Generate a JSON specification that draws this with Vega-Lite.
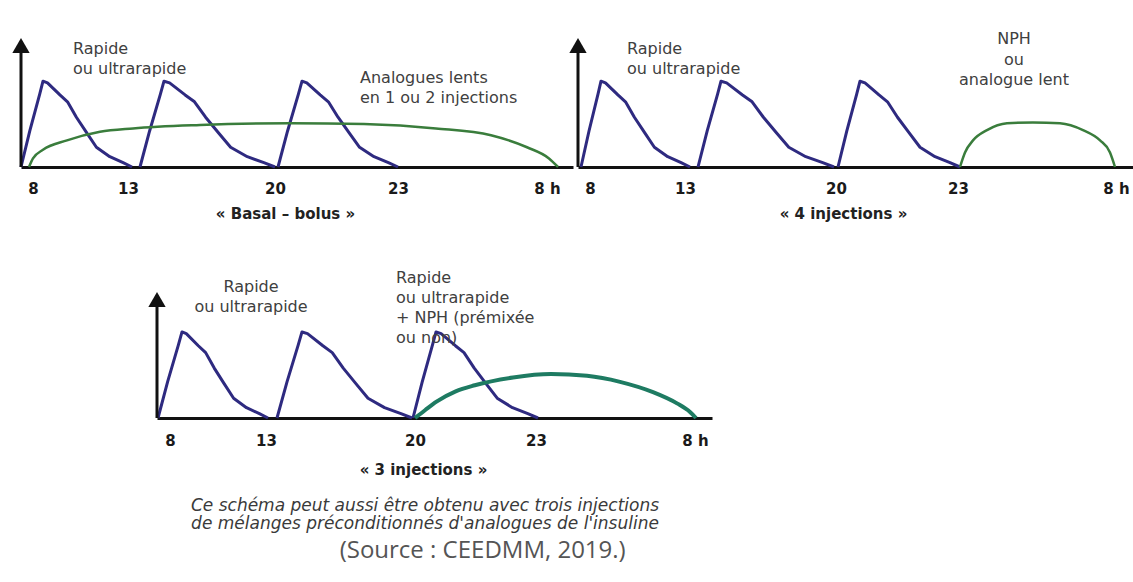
{
  "$schema": "https://vega.github.io/schema/vega-lite/v6.json",
  "background": "white",
  "autosize": {"type": "pad"},
  "padding": {"left": 12, "top": 4, "right": 0, "bottom": 12},
  "bounds": "flush",
  "spacing": 229,
  "config": {"view": {"stroke": null}, "font": "DejaVu Sans"},
  "title": {"text": "(Source : CEEDMM, 2019.)", "orient": "bottom", "anchor": "middle", "dx": -90, "offset": 7, "font": "Open Sans", "fontSize": 24, "fontWeight": "normal", "color": "#555555"},
  "datasets": {
    "axes": [
      {"p":"p1","t":7,"v":0,"top":1.417},
      {"p":"p2","t":7,"v":0,"top":1.417},
      {"p":"p3","t":7,"v":0,"top":1.378}
    ],
    "curves": [
      {"p":"p1","s":"rapide","id":"b1","t":7.0,"v":0},{"p":"p1","s":"rapide","id":"b1","t":7.733,"v":0.42},{"p":"p1","s":"rapide","id":"b1","t":8.353,"v":0.85},{"p":"p1","s":"rapide","id":"b1","t":8.526,"v":1},{"p":"p1","s":"rapide","id":"b1","t":8.763,"v":0.98},{"p":"p1","s":"rapide","id":"b1","t":9.416,"v":0.84},{"p":"p1","s":"rapide","id":"b1","t":9.816,"v":0.76},{"p":"p1","s":"rapide","id":"b1","t":10.284,"v":0.58},{"p":"p1","s":"rapide","id":"b1","t":10.821,"v":0.40},{"p":"p1","s":"rapide","id":"b1","t":11.337,"v":0.23},{"p":"p1","s":"rapide","id":"b1","t":12.042,"v":0.12},{"p":"p1","s":"rapide","id":"b1","t":12.742,"v":0.05},{"p":"p1","s":"rapide","id":"b1","t":13.19,"v":0},
      {"p":"p1","s":"rapide","id":"b2","t":13.571,"v":0},{"p":"p1","s":"rapide","id":"b2","t":14.029,"v":0.42},{"p":"p1","s":"rapide","id":"b2","t":14.543,"v":0.85},{"p":"p1","s":"rapide","id":"b2","t":14.714,"v":1},{"p":"p1","s":"rapide","id":"b2","t":14.981,"v":0.98},{"p":"p1","s":"rapide","id":"b2","t":15.719,"v":0.84},{"p":"p1","s":"rapide","id":"b2","t":16.167,"v":0.76},{"p":"p1","s":"rapide","id":"b2","t":16.695,"v":0.58},{"p":"p1","s":"rapide","id":"b2","t":17.305,"v":0.40},{"p":"p1","s":"rapide","id":"b2","t":17.886,"v":0.23},{"p":"p1","s":"rapide","id":"b2","t":18.681,"v":0.12},{"p":"p1","s":"rapide","id":"b2","t":19.471,"v":0.05},{"p":"p1","s":"rapide","id":"b2","t":20.0,"v":0},
      {"p":"p1","s":"rapide","id":"b3","t":20.073,"v":0},{"p":"p1","s":"rapide","id":"b3","t":20.307,"v":0.42},{"p":"p1","s":"rapide","id":"b3","t":20.571,"v":0.85},{"p":"p1","s":"rapide","id":"b3","t":20.659,"v":1},{"p":"p1","s":"rapide","id":"b3","t":20.776,"v":0.98},{"p":"p1","s":"rapide","id":"b3","t":21.102,"v":0.84},{"p":"p1","s":"rapide","id":"b3","t":21.302,"v":0.76},{"p":"p1","s":"rapide","id":"b3","t":21.537,"v":0.58},{"p":"p1","s":"rapide","id":"b3","t":21.805,"v":0.40},{"p":"p1","s":"rapide","id":"b3","t":22.063,"v":0.23},{"p":"p1","s":"rapide","id":"b3","t":22.415,"v":0.12},{"p":"p1","s":"rapide","id":"b3","t":22.766,"v":0.05},{"p":"p1","s":"rapide","id":"b3","t":23.0,"v":0},
      {"p":"p1","s":"lent","id":"g1","t":7.667,"v":0},{"p":"p1","s":"lent","id":"g1","t":8.0,"v":0.10},{"p":"p1","s":"lent","id":"g1","t":8.526,"v":0.20},{"p":"p1","s":"lent","id":"g1","t":9.789,"v":0.31},{"p":"p1","s":"lent","id":"g1","t":11.526,"v":0.41},{"p":"p1","s":"lent","id":"g1","t":13.238,"v":0.45},{"p":"p1","s":"lent","id":"g1","t":16.429,"v":0.49},{"p":"p1","s":"lent","id":"g1","t":20.39,"v":0.51},{"p":"p1","s":"lent","id":"g1","t":22.171,"v":0.50},{"p":"p1","s":"lent","id":"g1","t":25.295,"v":0.45},{"p":"p1","s":"lent","id":"g1","t":28.617,"v":0.37},{"p":"p1","s":"lent","id":"g1","t":30.792,"v":0.23},{"p":"p1","s":"lent","id":"g1","t":32.077,"v":0.10},{"p":"p1","s":"lent","id":"g1","t":32.423,"v":0},
      {"p":"p2","s":"rapide","id":"b1","t":7.25,"v":0},{"p":"p2","s":"rapide","id":"b1","t":7.917,"v":0.42},{"p":"p2","s":"rapide","id":"b1","t":8.421,"v":0.85},{"p":"p2","s":"rapide","id":"b1","t":8.579,"v":1},{"p":"p2","s":"rapide","id":"b1","t":8.813,"v":0.98},{"p":"p2","s":"rapide","id":"b1","t":9.468,"v":0.84},{"p":"p2","s":"rapide","id":"b1","t":9.868,"v":0.76},{"p":"p2","s":"rapide","id":"b1","t":10.337,"v":0.58},{"p":"p2","s":"rapide","id":"b1","t":10.874,"v":0.40},{"p":"p2","s":"rapide","id":"b1","t":11.389,"v":0.23},{"p":"p2","s":"rapide","id":"b1","t":12.092,"v":0.12},{"p":"p2","s":"rapide","id":"b1","t":12.795,"v":0.05},{"p":"p2","s":"rapide","id":"b1","t":13.232,"v":0},
      {"p":"p2","s":"rapide","id":"b2","t":13.603,"v":0},{"p":"p2","s":"rapide","id":"b2","t":14.029,"v":0.42},{"p":"p2","s":"rapide","id":"b2","t":14.511,"v":0.85},{"p":"p2","s":"rapide","id":"b2","t":14.669,"v":1},{"p":"p2","s":"rapide","id":"b2","t":14.931,"v":0.98},{"p":"p2","s":"rapide","id":"b2","t":15.666,"v":0.84},{"p":"p2","s":"rapide","id":"b2","t":16.111,"v":0.76},{"p":"p2","s":"rapide","id":"b2","t":16.635,"v":0.58},{"p":"p2","s":"rapide","id":"b2","t":17.237,"v":0.40},{"p":"p2","s":"rapide","id":"b2","t":17.812,"v":0.23},{"p":"p2","s":"rapide","id":"b2","t":18.598,"v":0.12},{"p":"p2","s":"rapide","id":"b2","t":19.384,"v":0.05},{"p":"p2","s":"rapide","id":"b2","t":19.907,"v":0},
      {"p":"p2","s":"rapide","id":"b3","t":20.049,"v":0},{"p":"p2","s":"rapide","id":"b3","t":20.266,"v":0.42},{"p":"p2","s":"rapide","id":"b3","t":20.509,"v":0.85},{"p":"p2","s":"rapide","id":"b3","t":20.59,"v":1},{"p":"p2","s":"rapide","id":"b3","t":20.713,"v":0.98},{"p":"p2","s":"rapide","id":"b3","t":21.057,"v":0.84},{"p":"p2","s":"rapide","id":"b3","t":21.266,"v":0.76},{"p":"p2","s":"rapide","id":"b3","t":21.512,"v":0.58},{"p":"p2","s":"rapide","id":"b3","t":21.795,"v":0.40},{"p":"p2","s":"rapide","id":"b3","t":22.066,"v":0.23},{"p":"p2","s":"rapide","id":"b3","t":22.435,"v":0.12},{"p":"p2","s":"rapide","id":"b3","t":22.803,"v":0.05},{"p":"p2","s":"rapide","id":"b3","t":23.114,"v":0},
      {"p":"p2","s":"lent","id":"g1","t":23.114,"v":0},{"p":"p2","s":"lent","id":"g1","t":23.399,"v":0.17},{"p":"p2","s":"lent","id":"g1","t":23.854,"v":0.31},{"p":"p2","s":"lent","id":"g1","t":24.652,"v":0.43},{"p":"p2","s":"lent","id":"g1","t":25.791,"v":0.51},{"p":"p2","s":"lent","id":"g1","t":27.272,"v":0.52},{"p":"p2","s":"lent","id":"g1","t":28.81,"v":0.51},{"p":"p2","s":"lent","id":"g1","t":30.12,"v":0.43},{"p":"p2","s":"lent","id":"g1","t":31.092,"v":0.31},{"p":"p2","s":"lent","id":"g1","t":31.658,"v":0.17},{"p":"p2","s":"lent","id":"g1","t":31.943,"v":0},
      {"p":"p3","s":"rapide","id":"b1","t":7.077,"v":0},{"p":"p3","s":"rapide","id":"b1","t":7.815,"v":0.42},{"p":"p3","s":"rapide","id":"b1","t":8.438,"v":0.85},{"p":"p3","s":"rapide","id":"b1","t":8.625,"v":1},{"p":"p3","s":"rapide","id":"b1","t":8.849,"v":0.98},{"p":"p3","s":"rapide","id":"b1","t":9.474,"v":0.84},{"p":"p3","s":"rapide","id":"b1","t":9.857,"v":0.76},{"p":"p3","s":"rapide","id":"b1","t":10.305,"v":0.58},{"p":"p3","s":"rapide","id":"b1","t":10.818,"v":0.40},{"p":"p3","s":"rapide","id":"b1","t":11.313,"v":0.23},{"p":"p3","s":"rapide","id":"b1","t":11.984,"v":0.12},{"p":"p3","s":"rapide","id":"b1","t":12.656,"v":0.05},{"p":"p3","s":"rapide","id":"b1","t":13.094,"v":0},
      {"p":"p3","s":"rapide","id":"b2","t":13.517,"v":0},{"p":"p3","s":"rapide","id":"b2","t":13.987,"v":0.42},{"p":"p3","s":"rapide","id":"b2","t":14.515,"v":0.85},{"p":"p3","s":"rapide","id":"b2","t":14.691,"v":1},{"p":"p3","s":"rapide","id":"b2","t":14.95,"v":0.98},{"p":"p3","s":"rapide","id":"b2","t":15.673,"v":0.84},{"p":"p3","s":"rapide","id":"b2","t":16.112,"v":0.76},{"p":"p3","s":"rapide","id":"b2","t":16.629,"v":0.58},{"p":"p3","s":"rapide","id":"b2","t":17.223,"v":0.40},{"p":"p3","s":"rapide","id":"b2","t":17.792,"v":0.23},{"p":"p3","s":"rapide","id":"b2","t":18.567,"v":0.12},{"p":"p3","s":"rapide","id":"b2","t":19.342,"v":0.05},{"p":"p3","s":"rapide","id":"b2","t":19.859,"v":0},
      {"p":"p3","s":"rapide","id":"b3","t":19.906,"v":0},{"p":"p3","s":"rapide","id":"b3","t":20.179,"v":0.42},{"p":"p3","s":"rapide","id":"b3","t":20.434,"v":0.85},{"p":"p3","s":"rapide","id":"b3","t":20.521,"v":1},{"p":"p3","s":"rapide","id":"b3","t":20.647,"v":0.98},{"p":"p3","s":"rapide","id":"b3","t":21.002,"v":0.84},{"p":"p3","s":"rapide","id":"b3","t":21.215,"v":0.76},{"p":"p3","s":"rapide","id":"b3","t":21.469,"v":0.58},{"p":"p3","s":"rapide","id":"b3","t":21.76,"v":0.40},{"p":"p3","s":"rapide","id":"b3","t":22.038,"v":0.23},{"p":"p3","s":"rapide","id":"b3","t":22.417,"v":0.12},{"p":"p3","s":"rapide","id":"b3","t":22.797,"v":0.05},{"p":"p3","s":"rapide","id":"b3","t":23.113,"v":0},
      {"p":"p3","s":"nph","id":"g1","t":20.0,"v":0},{"p":"p3","s":"nph","id":"g1","t":20.248,"v":0.09},{"p":"p3","s":"nph","id":"g1","t":20.533,"v":0.19},{"p":"p3","s":"nph","id":"g1","t":21.009,"v":0.31},{"p":"p3","s":"nph","id":"g1","t":21.483,"v":0.38},{"p":"p3","s":"nph","id":"g1","t":22.43,"v":0.47},{"p":"p3","s":"nph","id":"g1","t":23.849,"v":0.51},{"p":"p3","s":"nph","id":"g1","t":25.887,"v":0.49},{"p":"p3","s":"nph","id":"g1","t":27.755,"v":0.42},{"p":"p3","s":"nph","id":"g1","t":29.623,"v":0.30},{"p":"p3","s":"nph","id":"g1","t":30.981,"v":0.17},{"p":"p3","s":"nph","id":"g1","t":31.717,"v":0.07},{"p":"p3","s":"nph","id":"g1","t":32.059,"v":0}
    ],
    "notes": [
      {"p":"p1","k":"rapide","t":10.105,"v":1.375,"text":"Rapide\nou ultrarapide"},
      {"p":"p1","k":"lent","t":22.073,"v":1.041,"text":"Analogues lents\nen 1 ou 2 injections"},
      {"p":"p2","k":"rapide","t":9.947,"v":1.375,"text":"Rapide\nou ultrarapide"},
      {"p":"p2","k":"lent","t":26.19,"v":1.492,"text":"NPH\nou\nanalogue lent"},
      {"p":"p3","k":"rapide","t":12.219,"v":1.523,"text":"Rapide\nou ultrarapide"},
      {"p":"p3","k":"nph","t":19.107,"v":1.628,"text":"Rapide\nou ultrarapide\n+ NPH (prémixée\nou non)"}
    ]
  },
  "vconcat": [
    {
      "bounds": "flush",
      "spacing": 5,
      "hconcat": [
        {
          "width": 552, "height": 163,
          "encoding": {
            "x": {"field": "t", "type": "quantitative",
              "scale": {"domain": [7, 8, 13, 20, 23, 32, 33], "range": [0, 12, 107, 254, 377, 526, 552], "nice": false, "zero": false},
              "axis": {"values": [8, 13, 20, 23, 32], "labelExpr": "datum.value == 32 ? '8 h' : datum.label", "domainColor": "#111111", "domainWidth": 3, "ticks": false, "tickSize": 0, "grid": false, "labelFont": "DejaVu Sans", "labelFontWeight": "bold", "labelFontSize": 15, "labelColor": "#1a1a1a", "labelPadding": 21, "labelBaseline": "middle", "labelFlush": false, "labelOverlap": false, "title": "« Basal – bolus »", "titleX": 264, "titleY": 46, "titleBaseline": "middle", "titleAlign": "center", "titleFont": "DejaVu Sans", "titleFontWeight": "bold", "titleFontSize": 15, "titleColor": "#222222"}},
            "y": {"field": "v", "type": "quantitative", "scale": {"domain": [0, 1.9], "nice": false}, "axis": null}
          },
          "layer": [
            {"data": {"name": "curves"}, "transform": [{"filter": "datum.p == 'p1' && datum.s == 'rapide'"}],
             "mark": {"type": "line", "interpolate": "linear", "color": "#2e2a80", "strokeWidth": 3, "strokeJoin": "round"},
             "encoding": {"detail": {"field": "id"}}},
            {"data": {"name": "curves"}, "transform": [{"filter": "datum.p == 'p1' && datum.s != 'rapide'"}],
             "mark": {"type": "line", "interpolate": "monotone", "strokeWidth": 2.5},
             "encoding": {"detail": {"field": "id"}, "color": {"field": "s", "type": "nominal", "scale": {"domain": ["rapide", "lent", "nph"], "range": ["#2e2a80", "#3a7d3c", "#1e7b62"]}, "legend": null}}},
            {"data": {"name": "axes"}, "transform": [{"filter": "datum.p == 'p1'"}], "mark": {"type": "rule", "strokeWidth": 3, "color": "#111111"},
             "encoding": {"y2": {"field": "top"}}},
            {"data": {"name": "axes"}, "transform": [{"filter": "datum.p == 'p1'"}], "mark": {"type": "point", "shape": "triangle-up", "filled": true, "size": 300, "color": "#111111", "opacity": 1},
             "encoding": {"y": {"field": "top", "type": "quantitative"}}},
            {"data": {"name": "notes"}, "transform": [{"filter": "datum.p == 'p1'"}],
             "mark": {"type": "text", "align": "left", "baseline": "middle", "lineBreak": "\n", "lineHeight": 20, "font": "DejaVu Sans", "fontSize": 16, "color": "#404040"},
             "encoding": {"text": {"field": "text"}}}
          ]
        },
        {
          "width": 555, "height": 163,
          "encoding": {
            "x": {"field": "t", "type": "quantitative",
              "scale": {"domain": [7, 8, 13, 20, 23, 32, 33], "range": [0, 12, 107, 258, 380, 538, 555], "nice": false, "zero": false},
              "axis": {"values": [8, 13, 20, 23, 32], "labelExpr": "datum.value == 32 ? '8 h' : datum.label", "domainColor": "#111111", "domainWidth": 3, "ticks": false, "tickSize": 0, "grid": false, "labelFont": "DejaVu Sans", "labelFontWeight": "bold", "labelFontSize": 15, "labelColor": "#1a1a1a", "labelPadding": 21, "labelBaseline": "middle", "labelFlush": false, "labelOverlap": false, "title": "« 4 injections »", "titleX": 265, "titleY": 46, "titleBaseline": "middle", "titleAlign": "center", "titleFont": "DejaVu Sans", "titleFontWeight": "bold", "titleFontSize": 15, "titleColor": "#222222"}},
            "y": {"field": "v", "type": "quantitative", "scale": {"domain": [0, 1.9], "nice": false}, "axis": null}
          },
          "layer": [
            {"data": {"name": "curves"}, "transform": [{"filter": "datum.p == 'p2' && datum.s == 'rapide'"}],
             "mark": {"type": "line", "interpolate": "linear", "color": "#2e2a80", "strokeWidth": 3, "strokeJoin": "round"},
             "encoding": {"detail": {"field": "id"}}},
            {"data": {"name": "curves"}, "transform": [{"filter": "datum.p == 'p2' && datum.s != 'rapide'"}],
             "mark": {"type": "line", "interpolate": "monotone", "strokeWidth": 2.5},
             "encoding": {"detail": {"field": "id"}, "color": {"field": "s", "type": "nominal", "scale": {"domain": ["rapide", "lent", "nph"], "range": ["#2e2a80", "#3a7d3c", "#1e7b62"]}, "legend": null}}},
            {"data": {"name": "axes"}, "transform": [{"filter": "datum.p == 'p2'"}], "mark": {"type": "rule", "strokeWidth": 3, "color": "#111111"},
             "encoding": {"y2": {"field": "top"}}},
            {"data": {"name": "axes"}, "transform": [{"filter": "datum.p == 'p2'"}], "mark": {"type": "point", "shape": "triangle-up", "filled": true, "size": 300, "color": "#111111", "opacity": 1},
             "encoding": {"y": {"field": "top", "type": "quantitative"}}},
            {"data": {"name": "notes"}, "transform": [{"filter": "datum.p == 'p2' && datum.k == 'rapide'"}],
             "mark": {"type": "text", "align": "left", "baseline": "middle", "lineBreak": "\n", "lineHeight": 20, "font": "DejaVu Sans", "fontSize": 16, "color": "#404040"},
             "encoding": {"text": {"field": "text"}}},
            {"data": {"name": "notes"}, "transform": [{"filter": "datum.p == 'p2' && datum.k == 'lent'"}],
             "mark": {"type": "text", "align": "center", "baseline": "middle", "lineBreak": "\n", "lineHeight": 20.5, "font": "DejaVu Sans", "fontSize": 16, "color": "#404040"},
             "encoding": {"text": {"field": "text"}}}
          ]
        }
      ]
    },
    {
      "width": 691, "height": 185,
      "title": {"text": ["Ce schéma peut aussi être obtenu avec trois injections", "de mélanges préconditionnés d'analogues de l'insuline"], "orient": "bottom", "anchor": "middle", "frame": "group", "dx": 58.5, "offset": 21, "baseline": "top", "font": "DejaVu Sans", "fontStyle": "italic", "fontWeight": "normal", "fontSize": 17, "lineHeight": 18, "color": "#3a3a3a"},
      "encoding": {
        "x": {"field": "t", "type": "quantitative",
          "scale": {"domain": [7, 8, 13, 20, 23, 32, 33], "range": [136, 149, 245, 394, 515, 674, 691], "nice": false, "zero": false},
          "axis": {"values": [8, 13, 20, 23, 32], "labelExpr": "datum.value == 32 ? '8 h' : datum.label", "domainColor": "#111111", "domainWidth": 3, "ticks": false, "tickSize": 0, "grid": false, "labelFont": "DejaVu Sans", "labelFontWeight": "bold", "labelFontSize": 15, "labelColor": "#1a1a1a", "labelPadding": 22, "labelBaseline": "middle", "labelFlush": false, "labelOverlap": false, "title": "« 3 injections »", "titleX": 402, "titleY": 51, "titleBaseline": "middle", "titleAlign": "center", "titleFont": "DejaVu Sans", "titleFontWeight": "bold", "titleFontSize": 15, "titleColor": "#222222"}},
        "y": {"field": "v", "type": "quantitative", "scale": {"domain": [0, 2.15], "nice": false}, "axis": null}
      },
      "layer": [
        {"data": {"name": "curves"}, "transform": [{"filter": "datum.p == 'p3' && datum.s == 'rapide'"}],
         "mark": {"type": "line", "interpolate": "linear", "color": "#2e2a80", "strokeWidth": 3, "strokeJoin": "round"},
         "encoding": {"detail": {"field": "id"}}},
        {"data": {"name": "curves"}, "transform": [{"filter": "datum.p == 'p3' && datum.s != 'rapide'"}],
         "mark": {"type": "line", "interpolate": "monotone", "strokeWidth": 4},
         "encoding": {"detail": {"field": "id"}, "color": {"field": "s", "type": "nominal", "scale": {"domain": ["rapide", "lent", "nph"], "range": ["#2e2a80", "#3a7d3c", "#1e7b62"]}, "legend": null}}},
        {"data": {"name": "axes"}, "transform": [{"filter": "datum.p == 'p3'"}], "mark": {"type": "rule", "strokeWidth": 3, "color": "#111111"},
         "encoding": {"y2": {"field": "top"}}},
        {"data": {"name": "axes"}, "transform": [{"filter": "datum.p == 'p3'"}], "mark": {"type": "point", "shape": "triangle-up", "filled": true, "size": 300, "color": "#111111", "opacity": 1},
         "encoding": {"y": {"field": "top", "type": "quantitative"}}},
        {"data": {"name": "notes"}, "transform": [{"filter": "datum.p == 'p3' && datum.k == 'rapide'"}],
         "mark": {"type": "text", "align": "center", "baseline": "middle", "lineBreak": "\n", "lineHeight": 20, "font": "DejaVu Sans", "fontSize": 16, "color": "#404040"},
         "encoding": {"text": {"field": "text"}}},
        {"data": {"name": "notes"}, "transform": [{"filter": "datum.p == 'p3' && datum.k == 'nph'"}],
         "mark": {"type": "text", "align": "left", "baseline": "middle", "lineBreak": "\n", "lineHeight": 20, "font": "DejaVu Sans", "fontSize": 16, "color": "#404040"},
         "encoding": {"text": {"field": "text"}}}
      ]
    }
  ]
}
